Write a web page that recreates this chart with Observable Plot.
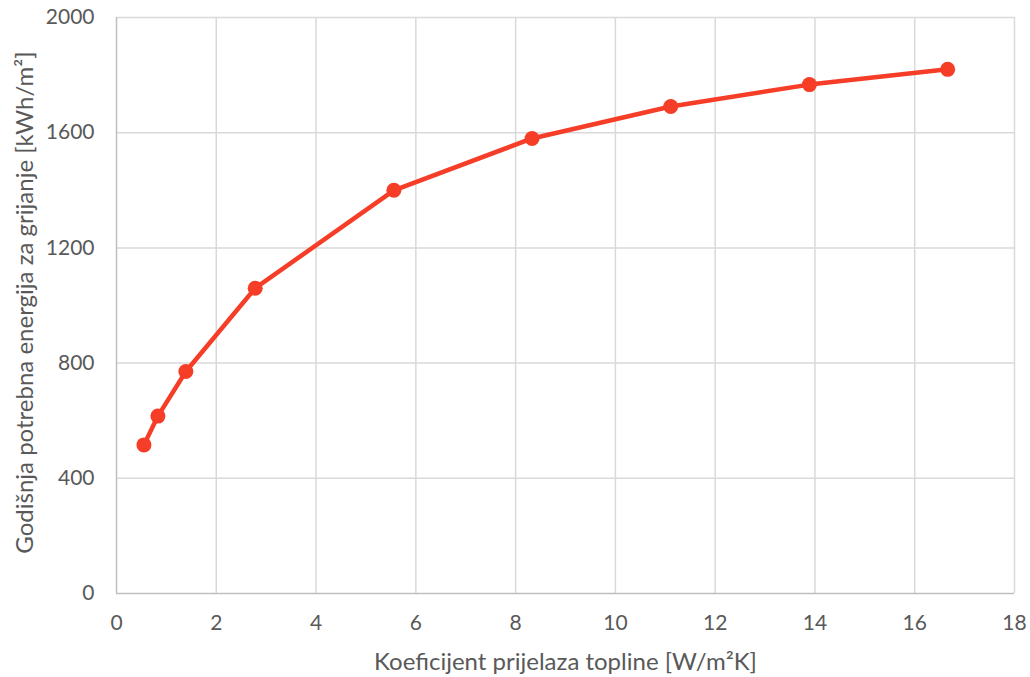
<!DOCTYPE html>
<html>
<head>
<meta charset="utf-8">
<script src="https://cdn.jsdelivr.net/npm/d3@7"></script>
<script src="https://cdn.jsdelivr.net/npm/@observablehq/plot@0.6"></script>
<style>
  html, body { margin: 0; padding: 0; background: #fff; }
  #chart { width: 1030px; height: 677px; }
</style>
</head>
<body>
<div id="chart"></div>
<script>
const uValues = [0.55, 0.83, 1.39, 2.78, 5.56, 8.33, 11.11, 13.89, 16.66];
const energy = [516, 616, 771, 1060, 1400, 1580, 1691, 1767, 1820];
const xTicks = [0, 2, 4, 6, 8, 10, 12, 14, 16, 18];
const yTicks = [0, 400, 800, 1200, 1600, 2000];
const xLabel = "Koeficijent prijelaza topline [W/m²K]";
const yLabel = "Godišnja potrebna energija za grijanje [kWh/m²]";

const data = uValues.map((u, i) => ({u, e: energy[i]}));
const lineColor = "#f63d27";

const chart = Plot.plot({
  width: 1030,
  height: 677,
  marginLeft: 116,
  marginRight: 16,
  marginTop: 17,
  marginBottom: 84,
  style: {fontFamily: "Lato, 'Open Sans', sans-serif", fontSize: "21px", color: "#595959", background: "#fff"},
  x: {domain: [0, 18], ticks: xTicks},
  y: {domain: [0, 2000], ticks: yTicks},
  marks: [
    Plot.gridX(xTicks.slice(1), {stroke: "#d9d9d9", strokeOpacity: 1, strokeWidth: 1.5}),
    Plot.gridY(yTicks.slice(1), {stroke: "#d9d9d9", strokeOpacity: 1, strokeWidth: 1.5}),
    Plot.ruleX([0], {stroke: "#bfbfbf", strokeWidth: 1.5}),
    Plot.ruleY([0], {stroke: "#bfbfbf", strokeWidth: 1.5}),
    Plot.axisX({ticks: xTicks, tickSize: 0, tickPadding: 22, tickFormat: d3.format("d"), label: null, fill: "#595959"}),
    Plot.axisY({ticks: yTicks, tickSize: 0, tickPadding: 22, tickFormat: d3.format("d"), label: null, fill: "#595959"}),
    Plot.text([xLabel], {frameAnchor: "bottom", dy: 69, text: d => d, fontSize: 24, fill: "#595959", textAnchor: "middle", lineAnchor: "middle"}),
    Plot.text([yLabel], {frameAnchor: "left", dx: -91, dy: -3, rotate: -90, text: d => d, fontSize: 24, fill: "#595959", textAnchor: "middle", lineAnchor: "middle"}),
    Plot.line(data, {x: "u", y: "e", stroke: lineColor, strokeWidth: 4.5}),
    Plot.dot(data, {x: "u", y: "e", r: 7.5, fill: lineColor, stroke: "none"})
  ]
});
document.getElementById("chart").appendChild(chart);
</script>
</body>
</html>
